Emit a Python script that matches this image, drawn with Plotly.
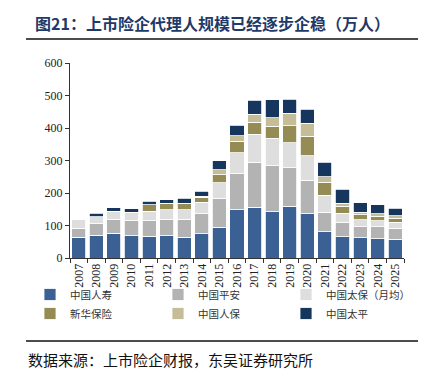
import plotly.graph_objects as go

years = [str(y) for y in range(2007, 2026)]
china_life = [64, 70, 76, 69, 67, 68, 64, 74, 95, 148, 156, 143, 160, 136, 81, 65, 62, 59, 57]
ping_an = [28, 35, 41, 46, 48, 49, 55, 62, 89, 111, 138, 141, 117, 103, 60, 45, 34, 37, 34]
cpic = [25, 22, 27, 26, 29, 31, 29, 35, 48, 65, 87, 85, 78, 75, 52, 27, 21, 19, 19]
new_china = [0, 0, 0, 0, 20, 20, 20, 16, 24, 35, 36, 37, 52, 60, 40, 22, 16, 13, 13]
picc = [0, 0, 0, 0, 0, 0, 0, 3, 15, 17, 25, 25, 38, 41, 17, 9, 8, 8, 7]
taiping = [0, 10, 10, 11, 10, 11, 16, 15, 28, 32, 44, 56, 44, 43, 44, 43, 29, 28, 23]

series = [
    ("中国人寿", china_life, "#3A6094"),
    ("中国平安", ping_an, "#B3B3B3"),
    ("中国太保（月均）", cpic, "#DEDEDE"),
    ("新华保险", new_china, "#958B55"),
    ("中国人保", picc, "#C5BD97"),
    ("中国太平", taiping, "#17365E"),
]

fig = go.Figure()
for name, vals, color in series:
    fig.add_trace(go.Bar(
        x=years, y=vals, name=name,
        marker=dict(color=color, line=dict(color="white", width=0.8)),
    ))

W, H = 426, 376
L, R, T, B = 62, 30, 55, 126
pw, ph = W - L - R, H - T - B

def px(x):
    return (x - L) / pw

def py(y):
    return (H - B - y) / ph

fig.update_layout(
    width=W, height=H,
    margin=dict(l=L, r=R, t=T, b=B),
    barmode="stack", bargap=0.2,
    plot_bgcolor="white", paper_bgcolor="white",
    font=dict(family="Liberation Serif", size=12, color="#222"),
    showlegend=True,
    legend=dict(
        orientation="h", x=px(22), y=py(296), xanchor="left", yanchor="middle",
        entrywidth=83, entrywidthmode="pixels", traceorder="normal",
        bgcolor="rgba(0,0,0,0)",
        font=dict(family="Noto Sans CJK SC", size=10.5, color="#333"),
        itemwidth=30, tracegroupgap=0,
    ),
    xaxis=dict(
        type="category", tickson="boundaries", ticks="outside", ticklen=4,
        tickcolor="#333", showline=True, linecolor="#333", linewidth=1,
        tickangle=-90, tickfont=dict(family="Liberation Serif", size=12, color="#222"),
        showgrid=False,
    ),
    yaxis=dict(
        range=[0, 600], dtick=100, ticks="outside", ticklen=4, tickcolor="#333",
        showline=True, linecolor="#333", linewidth=1, showgrid=False, zeroline=False,
        tickfont=dict(family="Liberation Serif", size=12, color="#222"),
    ),
    annotations=[
        dict(text="<b>图21：上市险企代理人规模已经逐步企稳（万人）</b>", xref="paper", yref="paper",
             x=px(25), y=py(15), xanchor="left", yanchor="middle", showarrow=False,
             font=dict(family="Noto Sans CJK SC", size=16, color="#1F3A68")),
        dict(text="数据来源：上市险企财报，东吴证券研究所", xref="paper", yref="paper",
             x=px(18), y=py(351), xanchor="left", yanchor="middle", showarrow=False,
             font=dict(family="Noto Sans CJK SC", size=15, color="#111")),
    ],
    shapes=[
        dict(type="line", xref="paper", yref="paper", x0=px(18), x1=px(420), y0=py(31), y1=py(31),
             line=dict(color="#111", width=1.5)),
        dict(type="line", xref="paper", yref="paper", x0=px(18), x1=px(420), y0=py(333), y1=py(333),
             line=dict(color="#111", width=1.5)),
    ],
)

fig.write_html("out.html")
